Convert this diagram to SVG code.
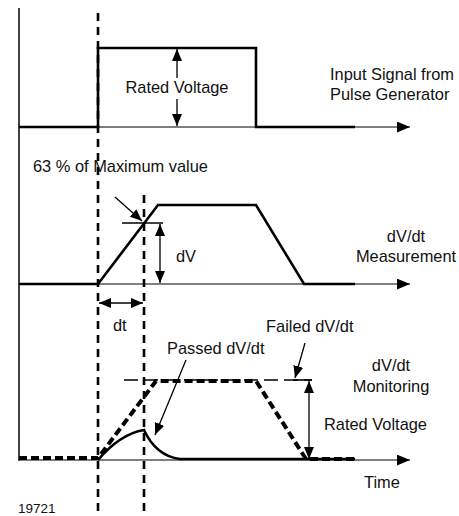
<svg xmlns="http://www.w3.org/2000/svg" width="459" height="516" viewBox="0 0 459 516">
<defs>
<style>
text{font-family:"Liberation Sans",Arial,sans-serif;font-size:16.4px;fill:#111}
.axis{stroke:#555;stroke-width:1.6;fill:none}
.sig{stroke:#000;stroke-width:2.6;fill:none;stroke-linejoin:miter}
.vdash{stroke:#000;stroke-width:2.6;stroke-dasharray:8,6;fill:none}
.dim{stroke:#000;stroke-width:1.3;fill:none}
.fail{stroke:#000;stroke-width:4;stroke-dasharray:8,4;fill:none}
</style>
<marker id="ah" viewBox="0 0 12 10" refX="12" refY="5" markerWidth="12" markerHeight="10" markerUnits="userSpaceOnUse" orient="auto-start-reverse"><path d="M0,0L12,5L0,10z" fill="#000"/></marker>
<marker id="ax" viewBox="0 0 12 10" refX="12" refY="5" markerWidth="13" markerHeight="11" markerUnits="userSpaceOnUse" orient="auto"><path d="M0,0L12,5L0,10z" fill="#000"/></marker>
</defs>
<g id="axes">
<line x1="19" y1="8" x2="19" y2="461" stroke="#000" stroke-width="1.5"/>
<line class="axis" x1="19" y1="127" x2="410" y2="127" marker-end="url(#ax)"/>
<line class="axis" x1="19" y1="284" x2="410" y2="284" marker-end="url(#ax)"/>
<line class="axis" x1="19" y1="460" x2="410" y2="460" marker-end="url(#ax)"/>
</g>
<g id="guides">
<line class="vdash" x1="98" y1="13" x2="98" y2="512"/>
<line class="vdash" x1="144" y1="195" x2="144" y2="512"/>
</g>
<g id="input-signal">
<path class="sig" d="M19,127H98V48H256V127H355"/>
</g>
<g id="measurement">
<path class="sig" d="M19,284H98L158,205H256L304,284H355"/>
<line class="dim" x1="122" y1="223" x2="163" y2="223"/>
</g>
<g id="monitoring">
<line x1="124" y1="380" x2="312" y2="380" stroke="#000" stroke-width="1.6" stroke-dasharray="14,6"/>
<line x1="293" y1="380" x2="312" y2="380" stroke="#000" stroke-width="1.6"/>
<path class="sig" d="M98,460Q120,434 144,430Q156,456 180,459H355"/>
<path class="fail" d="M19,458H98L156,381H256L306,459H356"/>
</g>
<g id="connectors">
<line class="dim" x1="177" y1="78" x2="177" y2="49" marker-end="url(#ah)"/>
<line class="dim" x1="177" y1="99" x2="177" y2="126" marker-end="url(#ah)"/>
<line class="dim" x1="160" y1="224" x2="160" y2="283" marker-start="url(#ah)" marker-end="url(#ah)"/>
<line class="dim" x1="99" y1="303" x2="143" y2="303" marker-start="url(#ah)" marker-end="url(#ah)"/>
<line class="dim" x1="115" y1="197" x2="142" y2="221" marker-end="url(#ah)"/>
<line class="dim" x1="186" y1="360" x2="155" y2="435" marker-end="url(#ah)"/>
<line class="dim" x1="305" y1="343" x2="295" y2="378" marker-end="url(#ah)"/>
<line class="dim" x1="309" y1="381" x2="309" y2="459" marker-start="url(#ah)" marker-end="url(#ah)"/>
</g>
<g id="labels">
<text x="177" y="93" text-anchor="middle">Rated Voltage</text>
<text x="330" y="80">Input Signal from</text>
<text x="330" y="100">Pulse Generator</text>
<text x="33" y="172">63 % of Maximum value</text>
<text x="176" y="262">dV</text>
<text x="406" y="242" text-anchor="middle">dV/dt</text>
<text x="406" y="262" text-anchor="middle">Measurement</text>
<text x="113" y="331">dt</text>
<text x="266" y="332">Failed dV/dt</text>
<text x="167" y="354">Passed dV/dt</text>
<text x="391" y="371" text-anchor="middle">dV/dt</text>
<text x="391" y="392" text-anchor="middle">Monitoring</text>
<text x="324" y="430">Rated Voltage</text>
<text x="364" y="488">Time</text>
<text x="18" y="513" style="font-size:13.5px">19721</text>
</g>
</svg>
